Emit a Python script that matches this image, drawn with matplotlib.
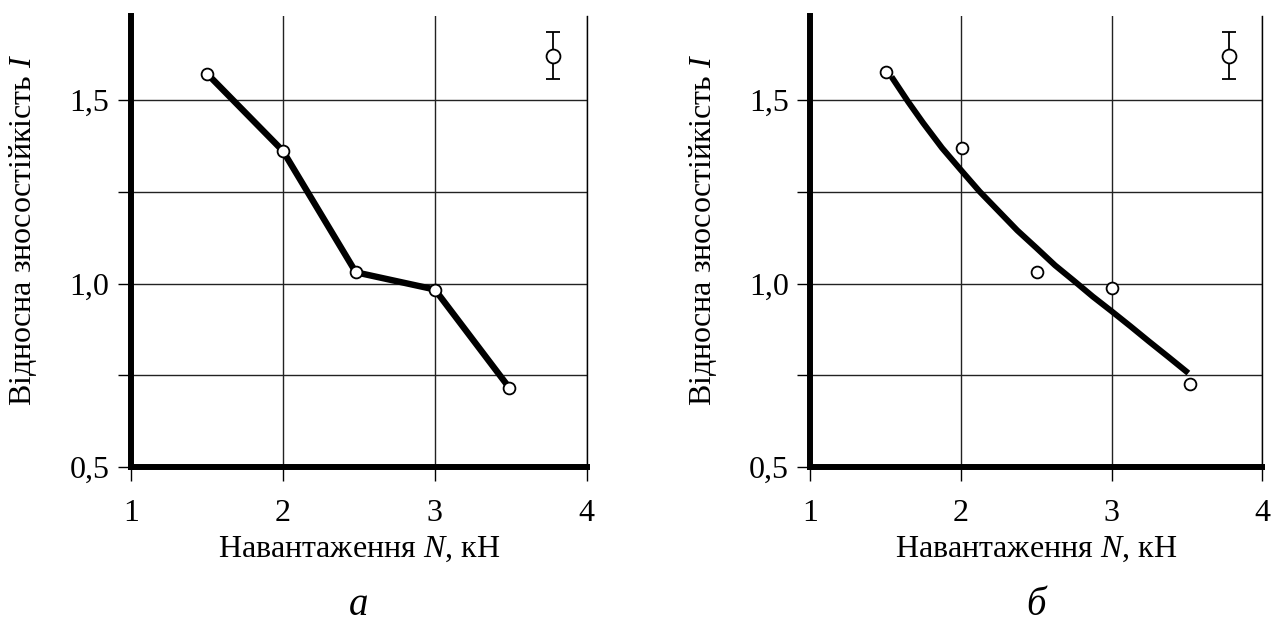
import numpy as np
import matplotlib
matplotlib.use('Agg')
import matplotlib.pyplot as plt

plt.rcParams['font.family'] = ['Liberation Serif', 'DejaVu Serif']
plt.rcParams['mathtext.fontset'] = 'custom'
plt.rcParams['mathtext.rm'] = 'Liberation Serif'
plt.rcParams['mathtext.it'] = 'Liberation Serif:italic'

# measured points (load N, kN ; relative wear resistance I)
load = [1.5, 2.0, 2.48, 3.0, 3.49]
wear_a = [1.573, 1.362, 1.031, 0.984, 0.716]

load_b = [1.506, 2.007, 2.504, 3.0, 3.52]
wear_b = [1.576, 1.369, 1.032, 0.987, 0.726]

# approximating curve on panel b
curve_x = [1.54, 1.65, 1.75, 1.875, 2.0, 2.125, 2.25, 2.375, 2.5,
           2.625, 2.75, 2.875, 3.0, 3.125, 3.25, 3.375, 3.51]
curve_y = [1.564, 1.496, 1.438, 1.370, 1.31, 1.251, 1.198, 1.145, 1.098,
           1.050, 1.008, 0.965, 0.925, 0.884, 0.842, 0.801, 0.756]

# error bar sample in the corner
err_x = 3.78
err_y = 1.622
err_d = 0.065

xticks = [1, 2, 3, 4]
yticks = [0.5, 0.75, 1.0, 1.25, 1.5]
yticklabels = ['0,5', '', '1,0', '', '1,5']

fs = 23

fig = plt.figure(figsize=(12.84, 6.23), dpi=100)
ax1 = fig.add_axes([0.102, 0.2504, 0.355, 0.724])
ax2 = fig.add_axes([0.631, 0.2504, 0.352, 0.724])


def style(ax):
    ax.set_xlim(1, 4)
    ax.set_ylim(0.5, 1.73)
    ax.set_xticks(xticks)
    ax.set_xticklabels([str(t) for t in xticks])
    ax.set_yticks(yticks)
    ax.set_yticklabels(yticklabels)
    ax.grid(True, color='#222222', lw=1.0, zorder=0)
    ax.set_axisbelow(True)
    ax.spines['top'].set_visible(False)
    ax.spines['right'].set_linewidth(1.0)
    ax.spines['left'].set_linewidth(4.3)
    ax.spines['bottom'].set_linewidth(4.3)
    for s in ['left', 'bottom']:
        ax.spines[s].set_capstyle('projecting')
    ax.tick_params(axis='x', direction='out', length=10, width=1.0,
                   labelsize=fs, pad=13)
    ax.tick_params(axis='y', direction='out', length=9.5, width=1.0,
                   labelsize=fs, pad=6)
    ax.set_xlabel('Навантаження $N$, кН', fontsize=fs, labelpad=5)
    ax.set_ylabel('Відносна зносостійкість $I$', fontsize=fs)
    ax.yaxis.set_label_coords(-0.202, 0.525)
    ax.errorbar([err_x], [err_y], yerr=[err_d], fmt='o', color='black',
                mfc='white', mec='black', ms=10, mew=1.3, elinewidth=1.3,
                capsize=5, capthick=1.3, zorder=5)


style(ax1)
ax1.plot(load, wear_a, color='black', lw=4.6, solid_joinstyle='round',
         solid_capstyle='round', zorder=3)
ax1.plot(load, wear_a, 'o', mfc='white', mec='black', ms=8.5, mew=1.3,
         zorder=4)

style(ax2)
ax2.plot(curve_x, curve_y, color='black', lw=4.3, solid_joinstyle='round',
         solid_capstyle='butt', zorder=3)
ax2.plot(load_b, wear_b, 'o', mfc='white', mec='black', ms=8.5, mew=1.3,
         zorder=4)

fig.text(0.2795, 0.028, 'а', fontsize=28, style='italic', ha='center', va='center')
fig.text(0.807, 0.028, 'б', fontsize=28, style='italic', ha='center', va='center')

fig.savefig('out.png', dpi=100)
